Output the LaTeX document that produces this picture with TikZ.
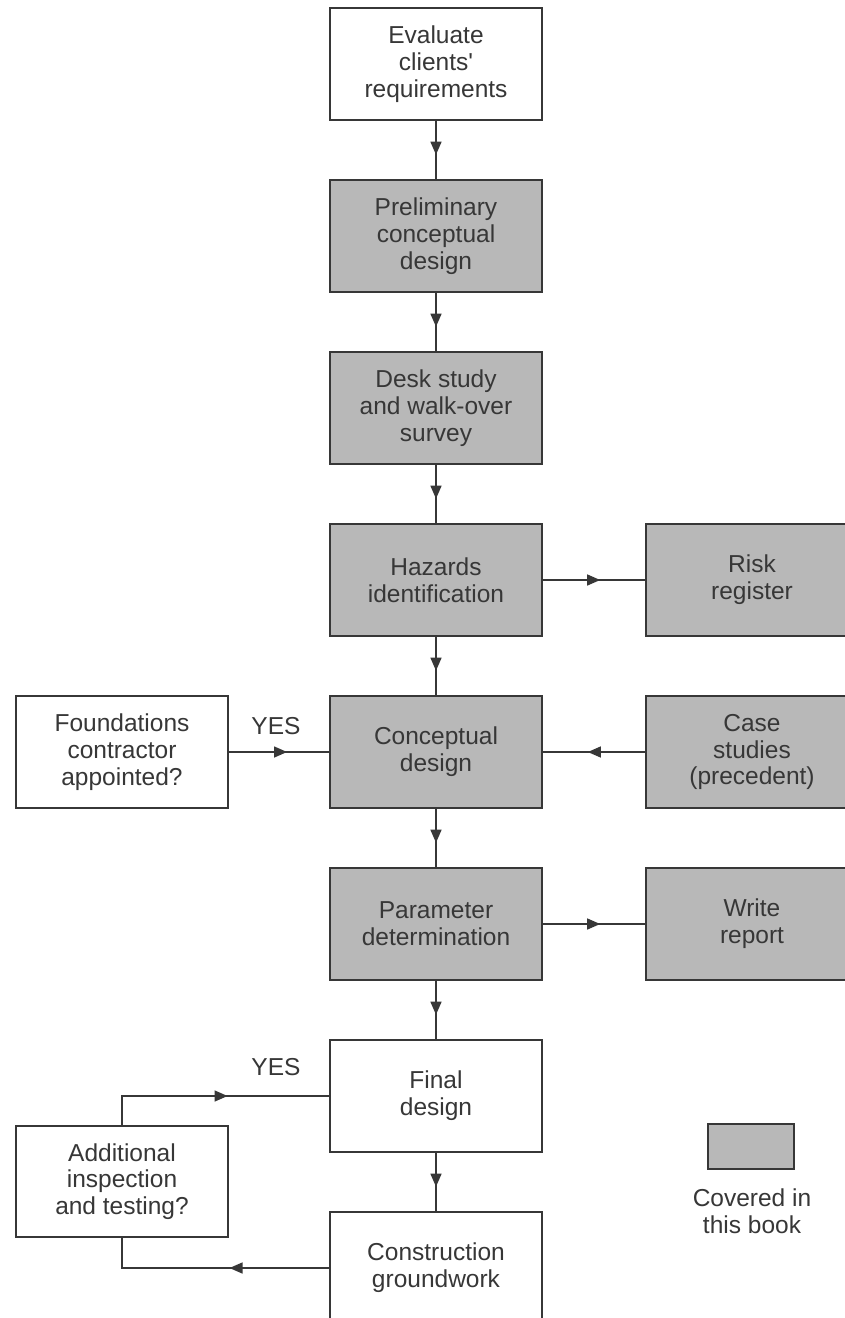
\documentclass[tikz,border=0pt]{standalone}
\usepackage{fontspec}
\setmainfont{Liberation Sans}
\usetikzlibrary{arrows.meta,decorations.markings}
\definecolor{boxgray}{RGB}{184,184,184}
\definecolor{ink}{RGB}{55,55,55}
\tikzset{
  box/.style={draw=ink, line width=1.4pt, minimum width=212pt, minimum height=112pt,
    align=center, font=\fontsize{24.5}{26.8}\selectfont, text=ink, inner sep=0pt},
  shaded/.style={box, fill=boxgray},
  plain/.style={box, fill=white},
  conn/.style={draw=ink, line width=1.4pt},
  midarrow/.style={conn, postaction={decorate}, decoration={markings,
    mark=at position #1 with {\arrow{Triangle[length=13pt,width=11pt]}}}},
  lbl/.style={font=\fontsize{24.5}{26.8}\selectfont, text=ink, align=center, inner sep=0pt}
}
\begin{document}
\begin{tikzpicture}[x=1pt,y=-1pt]
\useasboundingbox (0,0) rectangle (844,1318);
\fill[white] (0,0) rectangle (844,1318);
\node[plain]  (eval) at (436,64)   {Evaluate\\clients\textquotesingle\\requirements};
\node[shaded] (prel) at (436,236)  {Preliminary\\conceptual\\design};
\node[shaded] (desk) at (436,408)  {Desk study\\and walk-over\\survey};
\node[shaded] (haz)  at (436,580)  {Hazards\\identification};
\node[shaded] (conc) at (436,752)  {Conceptual\\design};
\node[shaded] (par)  at (436,924)  {Parameter\\determination};
\node[plain]  (fin)  at (436,1096) {Final\\design};
\node[plain]  (cons) at (436,1268) {Construction\\groundwork};
\node[shaded] (risk) at (752,580)  {Risk\\register};
\node[shaded] (case) at (752,752)  {Case\\studies\\(precedent)};
\node[shaded] (rep)  at (752,924)  {Write\\report};
\node[plain]  (fnd)  at (122,752)  {Foundations\\contractor\\appointed?};
\node[plain, minimum height=111pt] (add) at (122,1181.5) {Additional\\inspection\\and testing?};
\node[box, fill=boxgray, minimum width=86pt, minimum height=45pt] (leg) at (751,1146.5) {};
\node[lbl] (legt) at (752,1211) {Covered in\\this book};
\node[lbl] (yes1) at (276,726) {YES};
\node[lbl] (yes2) at (276,1067) {YES};
\draw[midarrow=0.58] (eval) -- (prel);
\draw[midarrow=0.58] (prel) -- (desk);
\draw[midarrow=0.58] (desk) -- (haz);
\draw[midarrow=0.58] (haz) -- (conc);
\draw[midarrow=0.58] (conc) -- (par);
\draw[midarrow=0.58] (par) -- (fin);
\draw[midarrow=0.58] (fin) -- (cons);
\draw[midarrow=0.56] (haz) -- (risk);
\draw[midarrow=0.56] (case) -- (conc);
\draw[midarrow=0.56] (par) -- (rep);
\draw[midarrow=0.58] (fnd) -- (conc);
\draw[midarrow=0.57] (add.north) |- (fin.west);
\draw[midarrow=0.42] (cons.west) -| (add.south);
\end{tikzpicture}
\end{document}
